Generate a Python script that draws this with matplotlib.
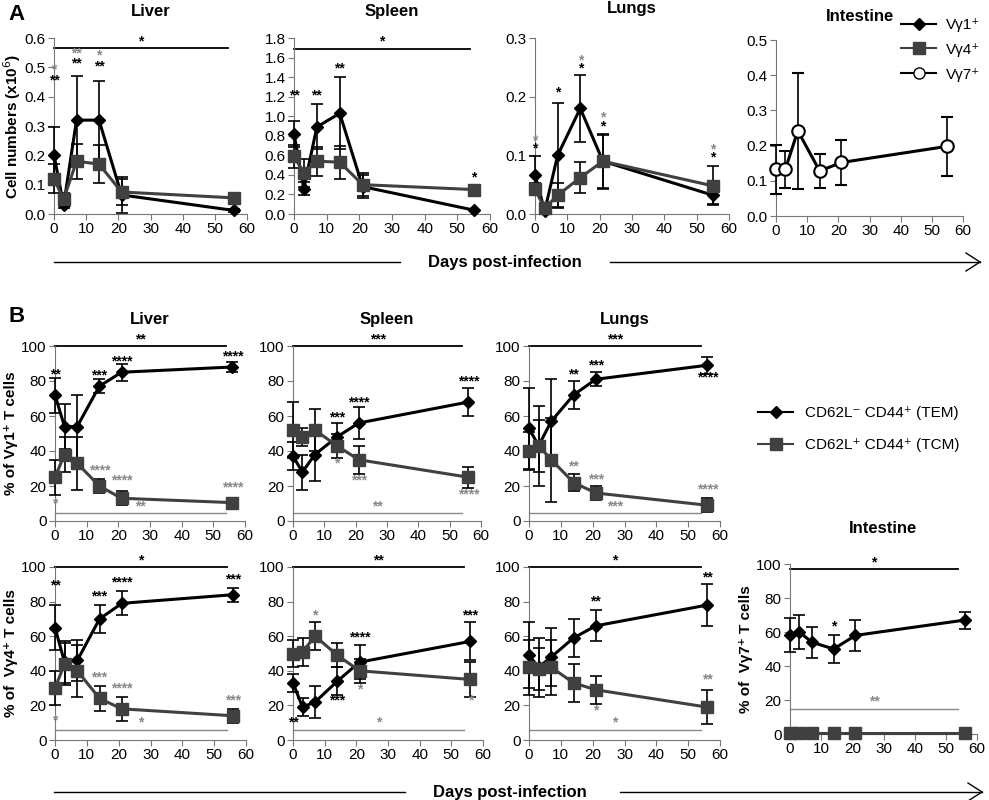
import matplotlib
matplotlib.use("Agg")
import matplotlib.pyplot as plt

plt.rcParams['font.family'] = ['Liberation Sans', 'DejaVu Sans']
plt.rcParams['font.size'] = 11

W, H = 989, 800
days = [0, 3, 7, 14, 21, 56]
days55 = [0, 3, 7, 14, 21, 55]

# Panel A (cell numbers x10^6)
A_liver_g1 = [0.20, 0.03, 0.32, 0.32, 0.065, 0.012]; A_liver_g1_e = [0.095, 0.01, 0.15, 0.135, 0.06, 0.005]
A_liver_g4 = [0.12, 0.05, 0.18, 0.17, 0.075, 0.055]; A_liver_g4_e = [0.05, 0.02, 0.06, 0.065, 0.045, 0.0]
A_spleen_g1 = [0.82, 0.26, 0.89, 1.03, 0.28, 0.04]; A_spleen_g1_e = [0.13, 0.07, 0.23, 0.37, 0.12, 0.0]
A_spleen_g4 = [0.59, 0.42, 0.54, 0.53, 0.30, 0.25]; A_spleen_g4_e = [0.12, 0.14, 0.15, 0.17, 0.12, 0.0]
A_lungs_g1 = [0.067, 0.005, 0.10, 0.18, 0.09, 0.032]; A_lungs_g1_e = [0.032, 0.004, 0.09, 0.057, 0.045, 0.015]
A_lungs_g4 = [0.042, 0.01, 0.032, 0.062, 0.09, 0.048]; A_lungs_g4_e = [0.01, 0.008, 0.02, 0.026, 0.047, 0.033]
A_int_g7 = [0.133, 0.133, 0.242, 0.128, 0.152, 0.198]; A_int_g7_e = [0.07, 0.053, 0.165, 0.048, 0.063, 0.084]

# Panel B (% TEM / TCM)
B1_liver_tem = [72, 54, 54, 77, 85, 88]; B1_liver_tem_e = [10, 13, 18, 4, 5, 3]
B1_liver_tcm = [25, 38, 33, 20, 13, 10.5]; B1_liver_tcm_e = [10, 10, 15, 4, 4, 1]
B1_spleen_tem = [37, 28, 38, 48, 56, 68]; B1_spleen_tem_e = [8, 10, 15, 8, 9, 8]
B1_spleen_tcm = [52, 48, 52, 43, 35, 25]; B1_spleen_tcm_e = [16, 5, 12, 7, 8, 6]
B1_lungs_tem = [53, 43, 57, 72, 81, 89]; B1_lungs_tem_e = [23, 15, 24, 8, 4, 5]
B1_lungs_tcm = [40, 43, 35, 22, 16, 9]; B1_lungs_tcm_e = [11, 23, 24, 5, 4, 4]
B2_liver_tem = [65, 45, 46, 70, 79, 84]; B2_liver_tem_e = [13, 12, 12, 8, 7, 4]
B2_liver_tcm = [30, 44, 40, 24, 18, 14]; B2_liver_tcm_e = [10, 12, 15, 7, 7, 4]
B2_spleen_tem = [33, 19, 22, 34, 45, 57]; B2_spleen_tem_e = [5, 5, 9, 8, 10, 11]
B2_spleen_tcm = [50, 51, 60, 49, 40, 35]; B2_spleen_tcm_e = [8, 8, 8, 7, 7, 10]
B2_lungs_tem = [49, 42, 48, 59, 66, 78]; B2_lungs_tem_e = [19, 17, 17, 11, 9, 12]
B2_lungs_tcm = [42, 41, 42, 33, 29, 19]; B2_lungs_tcm_e = [16, 12, 16, 11, 8, 10]
B2_int_tem = [58, 60, 54, 50, 58, 67]; B2_int_tem_e = [10, 10, 9, 8, 9, 5]
B2_int_tcm = [0.5, 0.5, 0.5, 0.5, 0.5, 0.5]; B2_int_tcm_e = [0, 0, 0, 0, 0, 0]

K = 'black'; G = '#404040'; S = '#888888'

fig = plt.figure(figsize=(W / 100, H / 100), dpi=100)

def ax_px(x0, x1, ytop, ybot):
    a = fig.add_axes([x0 / W, 1 - ybot / H, (x1 - x0) / W, (ybot - ytop) / H])
    for s in ['top', 'right']:
        a.spines[s].set_visible(False)
    for s in ['left', 'bottom']:
        a.spines[s].set_color('#777777')
    a.tick_params(direction='out', length=4, color='#777777', labelsize=11, pad=2)
    a.set_xlim(0, 60)
    a.set_xticks(range(0, 61, 10))
    return a

def series(a, x, y, e, kind):
    if kind == 'd':
        kw = dict(color=K, marker='D', ms=6.5, mfc=K, mec=K, lw=2.2)
    elif kind == 's':
        kw = dict(color=G, marker='s', ms=9, mfc=G, mec=G, lw=2.2)
    else:
        kw = dict(color=K, marker='o', ms=9, mfc='white', mec=K, mew=1.5, lw=2.2)
    a.errorbar(x, y, yerr=e, ecolor=K, elinewidth=1.2, capsize=4, capthick=1.2,
               clip_on=False, zorder=3, **kw)

def stars(a, items):
    for x, y, t, c in items:
        a.text(x, y, t, ha='center', va='bottom', color=c, fontsize=10, fontweight='bold')

def hline(a, y, t, c, lw=1.3):
    a.plot([0, 54], [y, y], color=c, lw=lw, clip_on=False)
    a.text(27, y, t, ha='center', va='bottom', color=c, fontsize=10, fontweight='bold')

# ---------------- Panel A ----------------
a = ax_px(54, 247, 38, 214)
a.set_ylim(0, 0.6); a.set_yticks([0, .1, .2, .3, .4, .5, .6])
a.yaxis.set_major_formatter(matplotlib.ticker.FormatStrFormatter('%.1f'))
series(a, days, A_liver_g1, A_liver_g1_e, 'd'); series(a, days, A_liver_g4, A_liver_g4_e, 's')
hline(a, 0.565, '*', K)
stars(a, [(0, 0.47, '*', S), (0, 0.43, '**', K), (7, 0.525, '**', S), (7, 0.49, '**', K),
          (14, 0.515, '*', S), (14, 0.48, '**', K)])
a.set_title('Liver', fontweight='bold', fontsize=12, pad=16)
a.set_ylabel('Cell numbers (x10$^6$)', fontweight='bold', fontsize=11, labelpad=1)

a = ax_px(294, 490, 38, 214)
a.set_ylim(0, 1.8); a.set_yticks([0, .2, .4, .6, .8, 1.0, 1.2, 1.4, 1.6, 1.8])
a.yaxis.set_major_formatter(matplotlib.ticker.FormatStrFormatter('%.1f'))
series(a, days55, A_spleen_g1, A_spleen_g1_e, 'd'); series(a, days55, A_spleen_g4, A_spleen_g4_e, 's')
hline(a, 1.69, '*', K)
stars(a, [(0, 1.14, '**', K), (7, 1.14, '**', K), (14, 1.42, '**', K), (55, 0.3, '*', K)])
a.set_title('Spleen', fontweight='bold', fontsize=12, pad=16)

a = ax_px(535, 729, 38, 214)
a.set_ylim(0, 0.3); a.set_yticks([0, .1, .2, .3])
a.yaxis.set_major_formatter(matplotlib.ticker.FormatStrFormatter('%.1f'))
series(a, days55, A_lungs_g1, A_lungs_g1_e, 'd'); series(a, days55, A_lungs_g4, A_lungs_g4_e, 's')
stars(a, [(0, 0.113, '*', S), (0, 0.099, '*', K), (7, 0.195, '*', K), (14, 0.25, '*', S),
          (14, 0.236, '*', K), (21, 0.152, '*', S), (21, 0.138, '*', K), (55, 0.098, '*', S), (55, 0.084, '*', K)])
a.set_title('Lungs', fontweight='bold', fontsize=12, pad=18)

a = ax_px(776, 963, 40, 216)
a.set_ylim(0, 0.5); a.set_yticks([0, .1, .2, .3, .4, .5])
a.yaxis.set_major_formatter(matplotlib.ticker.FormatStrFormatter('%.1f'))
series(a, days55, A_int_g7, A_int_g7_e, 'o')
a.set_title('Intestine', fontweight='bold', fontsize=12, pad=14, x=0.45)

from matplotlib.lines import Line2D
hA = [Line2D([], [], color=K, marker='D', ms=6.5, lw=1.5),
      Line2D([], [], color=G, marker='s', ms=9, lw=1.5),
      Line2D([], [], color=K, marker='o', ms=8, mfc='white', lw=1.5)]
fig.legend(hA, ['Vγ1⁺', 'Vγ4⁺', 'Vγ7⁺'], loc='upper right', bbox_to_anchor=(986 / W, 1 - 12 / H),
           frameon=False, fontsize=11, handlelength=2.3, labelspacing=0.7, borderaxespad=0,
           handletextpad=0.6)

fig.text(8 / W, 1 - 14 / H, 'A', fontsize=16, fontweight='bold', va='center')
fig.text(8 / W, 1 - 316 / H, 'B', fontsize=16, fontweight='bold', va='center')

def arrow_row(y, x0, x1, x2, x3, tx):
    yy = 1 - y / H
    fig.add_artist(Line2D([x0 / W, x1 / W], [yy, yy], color=K, lw=1))
    fig.add_artist(Line2D([x2 / W, x3 / W], [yy, yy], color=K, lw=1))
    fig.add_artist(Line2D([(x3 - 14) / W, x3 / W], [yy + 9 / H, yy], color=K, lw=1))
    fig.add_artist(Line2D([(x3 - 14) / W, x3 / W], [yy - 9 / H, yy], color=K, lw=1))
    fig.text(tx / W, yy, 'Days post-infection', ha='center', va='center', fontsize=12, fontweight='bold')

arrow_row(262, 54, 400, 610, 980, 505)
arrow_row(792, 54, 405, 620, 982, 510)

# ---------------- Panel B ----------------
def bax(x0, x1, yt, yb):
    a = ax_px(x0, x1, yt, yb)
    a.set_ylim(0, 100); a.set_yticks(range(0, 101, 20))
    return a

rows = [
    (346, 521, [(55, 245, B1_liver_tem, B1_liver_tem_e, B1_liver_tcm, B1_liver_tcm_e),
                (293, 481, B1_spleen_tem, B1_spleen_tem_e, B1_spleen_tcm, B1_spleen_tcm_e),
                (529, 720, B1_lungs_tem, B1_lungs_tem_e, B1_lungs_tcm, B1_lungs_tcm_e)]),
    (567, 740, [(55, 246, B2_liver_tem, B2_liver_tem_e, B2_liver_tcm, B2_liver_tcm_e),
                (293, 483, B2_spleen_tem, B2_spleen_tem_e, B2_spleen_tcm, B2_spleen_tcm_e),
                (529, 720, B2_lungs_tem, B2_lungs_tem_e, B2_lungs_tcm, B2_lungs_tcm_e)]),
]
anno = [
    [('**', '**', [(0, 80, '**', K), (14, 79, '***', K), (21, 87, '****', K), (56, 90, '****', K),
                   (14, 25, '****', S), (21, 19, '****', S), (56, 15, '****', S), (0, 6, '*', S)], 4.5),
     ('***', '**', [(14, 55, '***', K), (21, 64, '****', K), (56, 76, '****', K),
                    (14, 29, '*', S), (21, 19, '***', S), (56, 11, '****', S)], 4.5),
     ('***', '***', [(14, 80, '**', K), (21, 85, '***', K), (56, 78, '****', K),
                     (14, 27, '**', S), (21, 20, '***', S), (56, 14, '****', S)], 4.5)],
    [('*', '*', [(0, 85, '**', K), (14, 79, '***', K), (21, 87, '****', K), (56, 89, '***', K),
                 (14, 32, '***', S), (21, 26, '****', S), (56, 19, '***', S), (0, 7, '*', S)], 6),
     ('**', '*', [(21, 55, '****', K), (56, 68, '***', K), (14, 19, '***', K), (0, 6, '**', K),
                  (7, 68, '*', S), (21, 25, '*', S), (56, 19, '*', S)], 6),
     ('*', '*', [(21, 76, '**', K), (56, 90, '**', K), (21, 13, '*', S), (56, 31, '**', S)], 6)],
]
titles = ['Liver', 'Spleen', 'Lungs']
for r, (yt, yb, panels) in enumerate(rows):
    for c, (x0, x1, tem, teme, tcm, tcme) in enumerate(panels):
        a = bax(x0, x1, yt, yb)
        series(a, days, tem, teme, 'd'); series(a, days, tcm, tcme, 's')
        top, bot, st, by = anno[r][c]
        hline(a, 100, top, K)
        hline(a, by, bot, S, lw=1.0)
        stars(a, st)
        if r == 0:
            a.set_title(titles[c], fontweight='bold', fontsize=12, pad=16)
        if c == 0:
            a.set_ylabel('% of Vγ1⁺ T cells' if r == 0 else '% of  Vγ4⁺ T cells',
                         fontweight='bold', fontsize=11, labelpad=2)

a = bax(790, 977, 564, 734)
series(a, days, B2_int_tem, B2_int_tem_e, 'd'); series(a, days, B2_int_tcm, B2_int_tcm_e, 's')
hline(a, 97, '*', K)
hline(a, 15, '**', S, lw=1.0)
stars(a, [(14, 59, '*', K)])
a.set_title('Intestine', fontweight='bold', fontsize=12, pad=22)
a.set_ylabel('% of  Vγ7⁺ T cells', fontweight='bold', fontsize=11, labelpad=2)

hB = [Line2D([], [], color=K, marker='D', ms=6.5, lw=1.5),
      Line2D([], [], color=G, marker='s', ms=9, lw=1.5)]
fig.legend(hB, ['CD62L⁻ CD44⁺ (TEM)', 'CD62L⁺ CD44⁺ (TCM)'], loc='upper left',
           bbox_to_anchor=(752 / W, 1 - 400 / H), frameon=False, fontsize=11,
           handlelength=2.3, labelspacing=1.2, borderaxespad=0)

fig.savefig('out.png', dpi=100)
